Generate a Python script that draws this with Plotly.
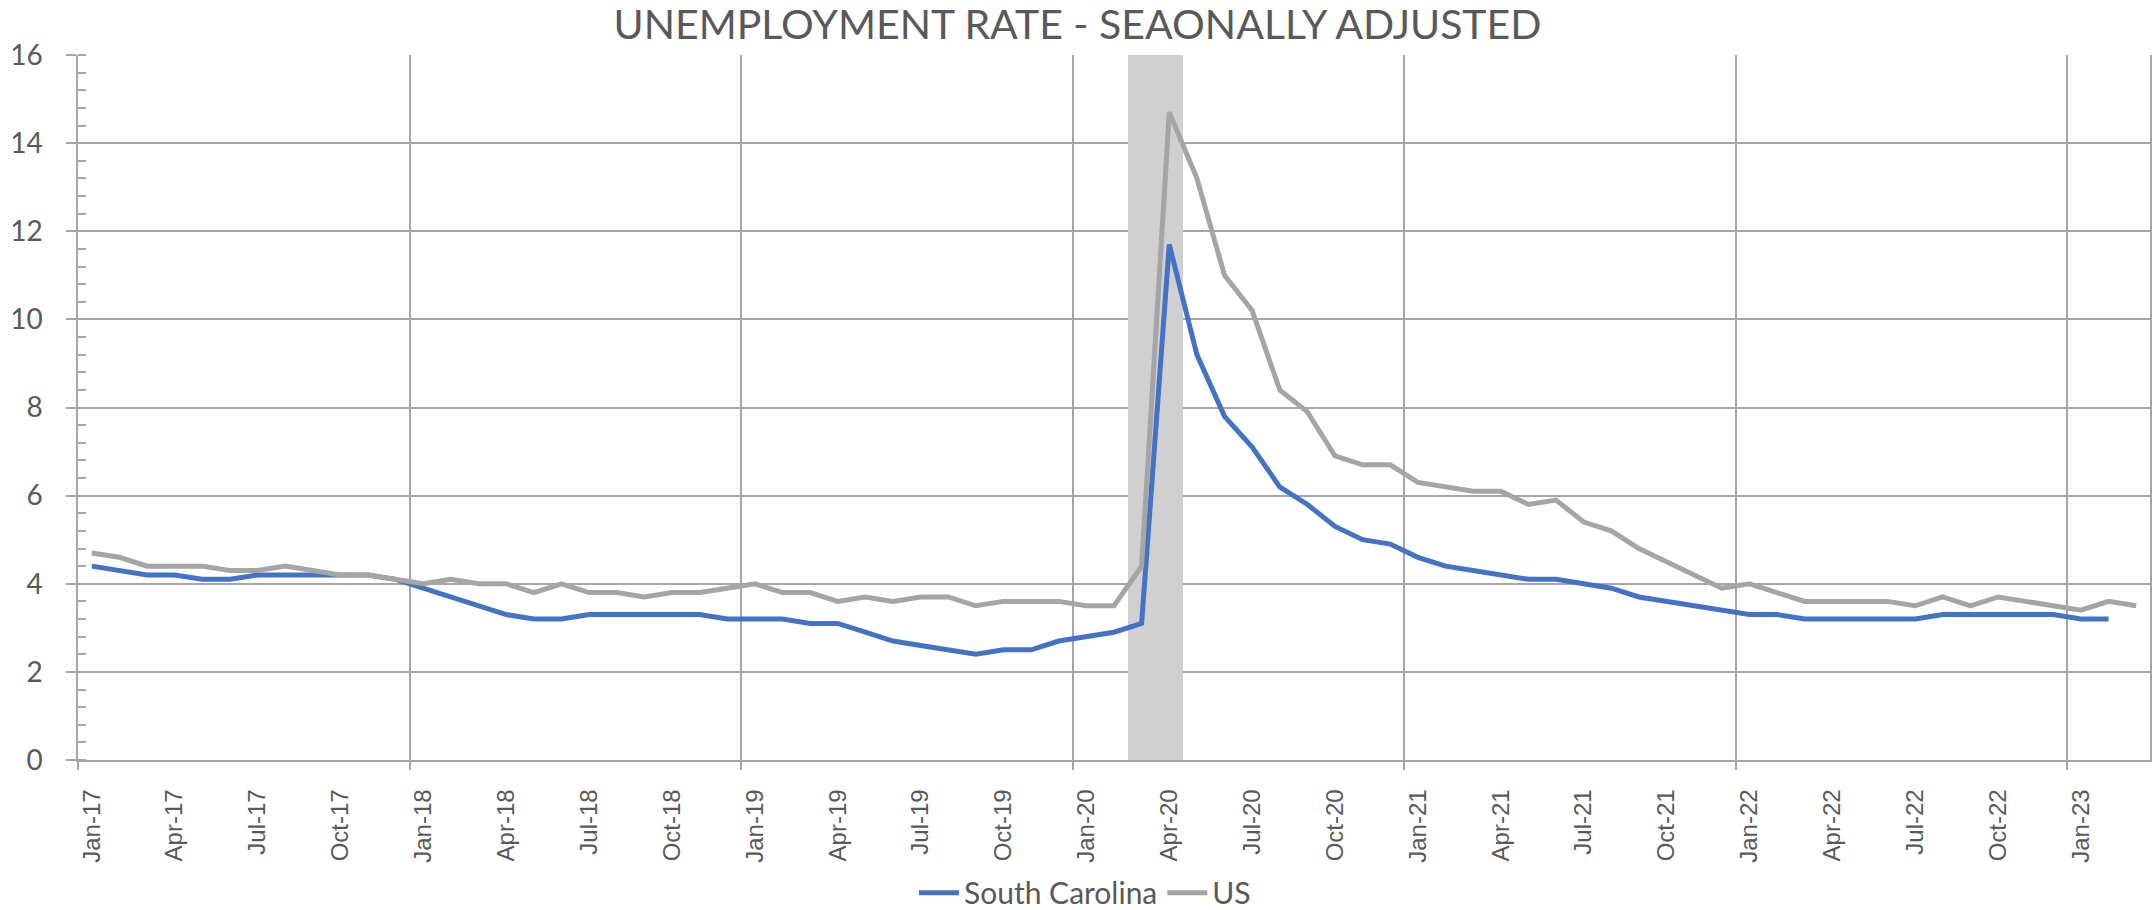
import plotly.graph_objects as go

MON = ["Jan", "Feb", "Mar", "Apr", "May", "Jun", "Jul", "Aug", "Sep", "Oct", "Nov", "Dec"]
months = [f"{m}-{y:02d}" for y in range(17, 24) for m in MON][:75]

south_carolina = [
    4.4, 4.3, 4.2, 4.2, 4.1, 4.1, 4.2, 4.2, 4.2, 4.2, 4.2, 4.1,
    3.9, 3.7, 3.5, 3.3, 3.2, 3.2, 3.3, 3.3, 3.3, 3.3, 3.3, 3.2,
    3.2, 3.2, 3.1, 3.1, 2.9, 2.7, 2.6, 2.5, 2.4, 2.5, 2.5, 2.7,
    2.8, 2.9, 3.1, 11.7, 9.2, 7.8, 7.1, 6.2, 5.8, 5.3, 5.0, 4.9,
    4.6, 4.4, 4.3, 4.2, 4.1, 4.1, 4.0, 3.9, 3.7, 3.6, 3.5, 3.4,
    3.3, 3.3, 3.2, 3.2, 3.2, 3.2, 3.2, 3.3, 3.3, 3.3, 3.3, 3.3,
    3.2, 3.2, None,
]
us = [
    4.7, 4.6, 4.4, 4.4, 4.4, 4.3, 4.3, 4.4, 4.3, 4.2, 4.2, 4.1,
    4.0, 4.1, 4.0, 4.0, 3.8, 4.0, 3.8, 3.8, 3.7, 3.8, 3.8, 3.9,
    4.0, 3.8, 3.8, 3.6, 3.7, 3.6, 3.7, 3.7, 3.5, 3.6, 3.6, 3.6,
    3.5, 3.5, 4.4, 14.7, 13.2, 11.0, 10.2, 8.4, 7.9, 6.9, 6.7, 6.7,
    6.3, 6.2, 6.1, 6.1, 5.8, 5.9, 5.4, 5.2, 4.8, 4.5, 4.2, 3.9,
    4.0, 3.8, 3.6, 3.6, 3.6, 3.6, 3.5, 3.7, 3.5, 3.7, 3.6, 3.5,
    3.4, 3.6, 3.5,
]
recession_months = ["Mar-20", "Apr-20"]
recession_level = 16
recession = [recession_level if m in recession_months else None for m in months]

tick_labels = months[::3]

xi = list(range(len(months)))
GRID = "#A6A6A6"
TXT = "#595959"

fig = go.Figure()
fig.add_trace(go.Bar(x=xi, y=recession, width=1, marker=dict(color="#D0D0D0", line=dict(width=0)),
                     showlegend=False, hoverinfo="skip"))
fig.add_trace(go.Scatter(x=xi, y=south_carolina, mode="lines", name="South Carolina",
                         line=dict(color="#4472C4", width=5)))
fig.add_trace(go.Scatter(x=xi, y=us, mode="lines", name="US",
                         line=dict(color="#A5A5A5", width=5)))

fig.update_layout(
    width=2155, height=910,
    margin=dict(l=78, r=5, t=55, b=150),
    paper_bgcolor="white", plot_bgcolor="white",
    title=dict(text="UNEMPLOYMENT RATE - SEAONALLY ADJUSTED", x=0.5, xanchor="center",
               y=0.973, yanchor="middle",
               font=dict(family="Lato", size=41, color=TXT)),
    legend=dict(orientation="h", x=0.486, xanchor="center",
                yref="container", y=0.019, yanchor="middle",
                font=dict(family="Lato", size=30, color=TXT), itemwidth=40,
                bgcolor="rgba(0,0,0,0)"),
    bargap=0,
)
fig.update_xaxes(
    range=[-0.5, len(months) - 0.5],
    tickmode="array", tickvals=xi[::3], ticktext=tick_labels,
    tickangle=-90, ticks="", showgrid=False,
    tickfont=dict(family="Liberation Sans", size=24, color=TXT),
    showline=True, linecolor=GRID, linewidth=1.5,
    minor=dict(tick0=-0.5, dtick=12, showgrid=True, gridcolor=GRID, gridwidth=1.5,
               ticks="outside", ticklen=8, tickcolor=GRID, tickwidth=1.5),
    zeroline=False, ticklabelstandoff=18, automargin=False,
)
fig.update_yaxes(
    range=[0, 16], dtick=2, showgrid=True, gridcolor=GRID, gridwidth=1.5,
    ticks="outside", ticklen=10, tickcolor=GRID, tickwidth=1.5,
    tickfont=dict(family="Lato", size=28, color=TXT),
    showline=True, linecolor=GRID, linewidth=1.5, mirror=True,
    minor=dict(dtick=0.4, ticks="inside", ticklen=8, tickcolor=GRID, tickwidth=1.5, showgrid=False),
    zeroline=False, ticklabelstandoff=18, automargin=False,
)

fig.write_html("out.html", config={"displayModeBar": False},
               post_script="document.body.style.margin='0';")
